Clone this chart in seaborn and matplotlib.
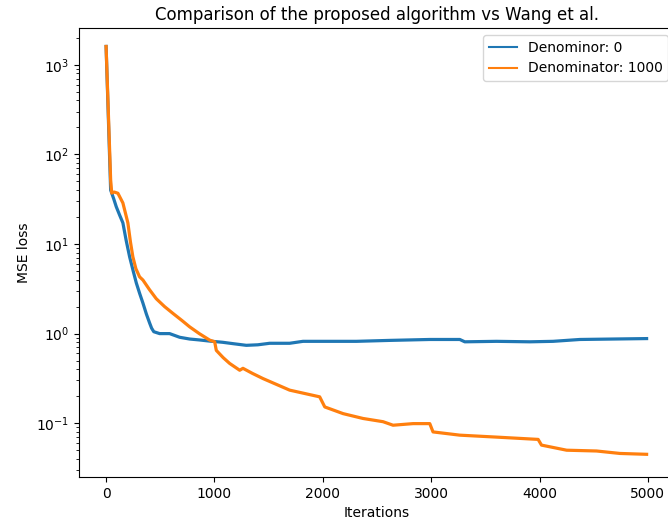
import matplotlib
matplotlib.use("Agg")
import matplotlib.pyplot as plt
import seaborn as sns
import pandas as pd

title = "Comparison of the proposed algorithm vs Wang et al."
x_label = "Iterations"
y_label = "MSE loss"
series_names = ["Denominor: 0", "Denominator: 1000"]

iter_blue = [0, 42, 70, 94, 125, 155, 185, 217, 250, 279, 310, 340, 372, 402, 420, 440, 494, 586,
             679, 771, 860, 956, 1076, 1180, 1294, 1400, 1510, 1694, 1817, 2000, 2310, 2618,
             2987, 3264, 3310, 3603, 3911, 4125, 4372, 4680, 4988]
loss_blue = [1600, 40, 32, 26, 21, 17.2, 11.0, 7.2, 5.0, 3.67, 2.8, 2.19, 1.65, 1.31, 1.15, 1.05, 1.0,
             1.0, 0.91, 0.87, 0.85, 0.825, 0.80, 0.77, 0.74, 0.75, 0.78, 0.78, 0.82, 0.82, 0.82,
             0.84, 0.86, 0.86, 0.81, 0.82, 0.81, 0.82, 0.86, 0.87, 0.88]

iter_orange = [0, 42, 52, 75, 109, 155, 201, 225, 247, 275, 309, 340, 400, 463, 540, 617, 700, 771,
               860, 956, 1002, 1017, 1080, 1140, 1233, 1263, 1350, 1448, 1694, 1971, 2018,
               2187, 2371, 2556, 2648, 2833, 2987, 3017, 3264, 3603, 3987, 4018, 4250, 4526,
               4742, 4988]
loss_orange = [1600, 52, 37, 38, 36.8, 28.7, 17.2, 10.5, 7.2, 5.3, 4.3, 3.96, 3.1, 2.45, 2.0, 1.68,
               1.40, 1.19, 1.0, 0.846, 0.81, 0.65, 0.54, 0.465, 0.39, 0.41, 0.36, 0.315, 0.234,
               0.197, 0.152, 0.128, 0.113, 0.104, 0.095, 0.099, 0.099, 0.080, 0.0736, 0.070,
               0.066, 0.057, 0.050, 0.049, 0.046, 0.045]

df = pd.concat([
    pd.DataFrame({"iter": iter_blue, "loss": loss_blue, "series": series_names[0]}),
    pd.DataFrame({"iter": iter_orange, "loss": loss_orange, "series": series_names[1]}),
], ignore_index=True)

W, H = 668, 526
fig = plt.figure(figsize=(W / 100, H / 100), dpi=100)
left, right, top, bottom = 79, 675, 28, 477
ax = fig.add_axes([left / W, 1 - bottom / H, (right - left) / W, (bottom - top) / H])

sns.lineplot(data=df, x="iter", y="loss", hue="series", ax=ax,
             palette=["#1f77b4", "#ff7f0e"], linewidth=2.3, sort=False)
ax.set_yscale("log")
ax.set_xlim(-250, 5250)
ax.set_ylim(10 ** -1.60, 10 ** 3.41)
ax.set_xticks([0, 1000, 2000, 3000, 4000, 5000])
ax.set_xlabel(x_label)
ax.set_ylabel(y_label)
ax.set_title(title, fontsize=12)
leg = ax.legend(loc="upper right", title=None)
for line in leg.get_lines():
    line.set_linewidth(1.5)

fig.savefig("out.png", dpi=100)
